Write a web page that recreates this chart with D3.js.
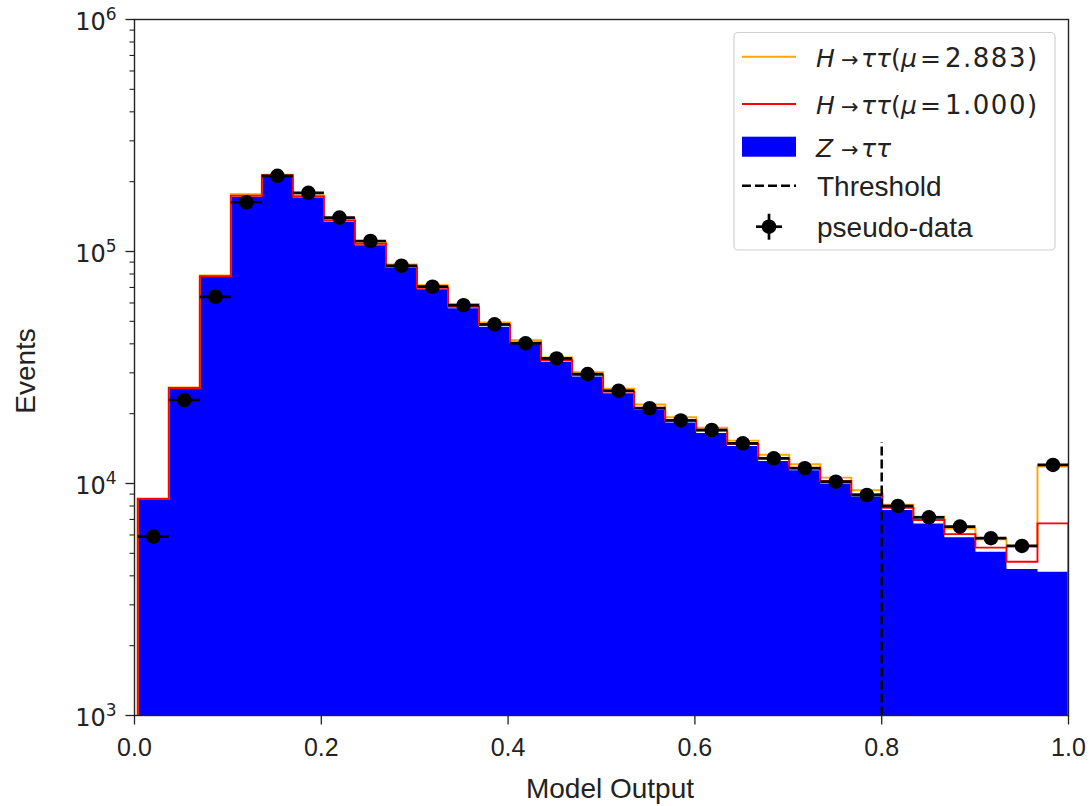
<!DOCTYPE html>
<html>
<head>
<meta charset="utf-8">
<script src="https://cdn.jsdelivr.net/npm/d3@7"></script>
<style>
  html, body { margin: 0; padding: 0; background: #fff; }
  svg { display: block; }
</style>
</head>
<body>
<svg id="chart" width="1091" height="806"></svg>
<script>
// ---------------- data ----------------
const nBins = 30;
const binRange = [0.0035, 1.0];        // histogram range (min..max model output)
const xDomain = [0, 1];
const yDomain = [1e3, 1e6];
const xTicks = [0, 0.2, 0.4, 0.6, 0.8, 1.0];
const xTickLabels = ["0.0", "0.2", "0.4", "0.6", "0.8", "1.0"];
const yMajorExp = [3, 4, 5, 6];

// Z -> tautau background (blue filled)
const zTauTau = [8550, 25700, 77800, 172000, 211000, 171000, 134500, 106500, 85000, 68700,
                 56900, 47400, 39900, 33500, 28900, 24500, 20800, 18300, 16500, 14500,
                 12500, 11400, 10000, 8800, 7690, 6730, 5860, 5080, 4280, 4170];
// stacked total, H -> tautau (mu = 1.000)
const hMu1Total = [8580, 25800, 78200, 174000, 212500, 172500, 136000, 108000, 86000, 69800,
                   57800, 48200, 40500, 34000, 29400, 24900, 21200, 18700, 16900, 14800,
                   12800, 11700, 10250, 9000, 7850, 6960, 6050, 5290, 4600, 6730];
// stacked total, H -> tautau (mu = 2.883)
const hMuFitTotal = [8620, 25950, 78800, 176400, 214500, 174500, 138500, 110000, 88000, 71600,
                     59300, 49400, 41500, 34900, 30200, 25600, 21900, 19300, 17400, 15300,
                     13300, 12100, 10600, 9350, 8100, 7200, 6400, 5750, 5350, 11840];
// pseudo-data
const pseudoData = [5900, 22900, 63800, 163000, 212000, 179000, 140000, 111000, 86800, 70500,
                    58700, 48500, 40200, 34600, 29600, 25100, 21100, 18700, 17000, 14900,
                    12840, 11630, 10180, 8920, 8000, 7150, 6520, 5810, 5380, 12020];
const thresholdX = 0.8;
const thresholdTop = 15100;

// ---------------- layout ----------------
const L = 134.5, R = 1068.5, T = 19.5, B = 715.5;
const svg = d3.select("#chart");
const x = d3.scaleLinear().domain(xDomain).range([L, R]);
const y = d3.scaleLog().domain(yDomain).range([B, T]);
const edges = d3.range(nBins + 1).map(i => binRange[0] + (binRange[1] - binRange[0]) * i / nBins);

svg.append("defs").append("clipPath").attr("id", "clip")
  .append("rect").attr("x", L).attr("y", T).attr("width", R - L).attr("height", B - T);

function stepPath(vals) {
  const p = d3.path();
  p.moveTo(x(edges[0]), B);
  vals.forEach((v, i) => {
    p.lineTo(x(edges[i]), y(v));
    p.lineTo(x(edges[i + 1]), y(v));
  });
  p.lineTo(x(edges[nBins]), B);
  return p.toString();
}

const plot = svg.append("g").attr("clip-path", "url(#clip)");

plot.append("path").attr("d", stepPath(zTauTau) + "Z")
  .attr("fill", "#0000ff").attr("stroke", "none");

plot.append("path").attr("d", stepPath(hMuFitTotal))
  .attr("fill", "none").attr("stroke", "#ffa500").attr("stroke-width", 1.9);
plot.append("path").attr("d", stepPath(hMu1Total))
  .attr("fill", "none").attr("stroke", "#ff0000").attr("stroke-width", 1.9);

plot.append("line")
  .attr("x1", x(thresholdX)).attr("x2", x(thresholdX))
  .attr("y1", y(yDomain[0])).attr("y2", y(thresholdTop))
  .attr("stroke", "#000").attr("stroke-width", 2.5).attr("stroke-dasharray", "9,4");

const dg = plot.append("g");
pseudoData.forEach((v, i) => {
  const cx = (x(edges[i]) + x(edges[i + 1])) / 2;
  dg.append("line").attr("x1", x(edges[i])).attr("x2", x(edges[i + 1]))
    .attr("y1", y(v)).attr("y2", y(v)).attr("stroke", "#000").attr("stroke-width", 2.7);
  dg.append("circle").attr("cx", cx).attr("cy", y(v)).attr("r", 7.3).attr("fill", "#000");
});

// ---------------- axes ----------------
const axisColor = "#222";
const mathFont = "DejaVu Sans, sans-serif";
const textFont = "Liberation Sans, Arial, Helvetica, sans-serif";
svg.append("rect").attr("x", L).attr("y", T).attr("width", R - L).attr("height", B - T)
  .attr("fill", "none").attr("stroke", axisColor).attr("stroke-width", 1.4);

const ax = svg.append("g");
xTicks.forEach((t, i) => {
  ax.append("line").attr("x1", x(t)).attr("x2", x(t)).attr("y1", B).attr("y2", B + 9)
    .attr("stroke", axisColor).attr("stroke-width", 1.3);
  ax.append("text").attr("x", x(t)).attr("y", B + 40).attr("text-anchor", "middle")
    .attr("font-family", textFont).attr("font-size", 25)
    .attr("fill", "#222").text(xTickLabels[i]);
});

yMajorExp.forEach(e => {
  const v = Math.pow(10, e);
  ax.append("line").attr("x1", L - 9).attr("x2", L).attr("y1", y(v)).attr("y2", y(v))
    .attr("stroke", axisColor).attr("stroke-width", 1.3);
  const tx = ax.append("text").attr("x", L - 18).attr("y", y(v) + 10).attr("text-anchor", "end")
    .attr("font-family", mathFont).attr("font-size", 24).attr("fill", "#222");
  tx.append("tspan").text("10");
  tx.append("tspan").attr("dy", -10).attr("font-size", 17).text(String(e));
  if (e < yMajorExp[yMajorExp.length - 1]) {
    for (let m = 2; m <= 9; m++) {
      const mv = m * v;
      ax.append("line").attr("x1", L - 5).attr("x2", L).attr("y1", y(mv)).attr("y2", y(mv))
        .attr("stroke", axisColor).attr("stroke-width", 1.1);
    }
  }
});

svg.append("text").attr("x", 610).attr("y", 798).attr("text-anchor", "middle")
  .attr("font-family", textFont).attr("font-size", 28)
  .attr("fill", "#222").text("Model Output");
svg.append("text").attr("transform", "translate(35,371) rotate(-90)")
  .attr("text-anchor", "middle")
  .attr("font-family", textFont).attr("font-size", 28)
  .attr("fill", "#222").text("Events");

// ---------------- legend ----------------
const lg = svg.append("g");
lg.append("rect").attr("x", 734).attr("y", 32.5).attr("width", 321).attr("height", 217.5)
  .attr("rx", 4).attr("fill", "#fff").attr("fill-opacity", 0.85)
  .attr("stroke", "#d0d0d0").attr("stroke-width", 1.2);

const hx0 = 742, hx1 = 796, tx0 = 817;
const rows = [56.7, 104, 146.7, 185.7, 226.7];
const mfs = 25;

function mathLabel(yc, mu) {
  const t = lg.append("text").attr("y", yc + 10)
    .attr("font-family", mathFont).attr("font-size", mfs).attr("fill", "#222");
  t.append("tspan").attr("x", 816).attr("font-style", "italic").text("H");
  t.append("tspan").attr("x", 841).attr("font-size", 21).text("\u2192");
  t.append("tspan").attr("x", 861).attr("font-style", "italic").text("\u03c4\u03c4");
  t.append("tspan").text("(");
  t.append("tspan").attr("x", 901).attr("font-style", "italic").text("\u03bc");
  t.append("tspan").attr("x", 920).text("=");
  t.append("tspan").attr("x", 945).attr("font-size", 26).attr("letter-spacing", 1.5).text(mu + ")");
}

lg.append("line").attr("x1", hx0).attr("x2", hx1).attr("y1", rows[0]).attr("y2", rows[0])
  .attr("stroke", "#ffa500").attr("stroke-width", 1.9);
mathLabel(rows[0], "2.883");
lg.append("line").attr("x1", hx0).attr("x2", hx1).attr("y1", rows[1]).attr("y2", rows[1])
  .attr("stroke", "#ff0000").attr("stroke-width", 1.9);
mathLabel(rows[1], "1.000");

lg.append("rect").attr("x", hx0).attr("y", rows[2] - 10).attr("width", hx1 - hx0).attr("height", 20)
  .attr("fill", "#0000ff");
const zt = lg.append("text").attr("y", rows[2] + 10)
  .attr("font-family", mathFont).attr("font-size", mfs).attr("fill", "#222");
zt.append("tspan").attr("x", 816).attr("font-style", "italic").text("Z");
zt.append("tspan").attr("x", 841).attr("font-size", 21).text("\u2192");
zt.append("tspan").attr("x", 861).attr("font-style", "italic").text("\u03c4\u03c4");

lg.append("line").attr("x1", hx0).attr("x2", hx1).attr("y1", rows[3]).attr("y2", rows[3])
  .attr("stroke", "#000").attr("stroke-width", 2.5).attr("stroke-dasharray", "9,4");
lg.append("text").attr("x", tx0).attr("y", rows[3] + 10).attr("font-family", textFont)
  .attr("font-size", 28).attr("fill", "#222").text("Threshold");

const mx = (hx0 + hx1) / 2;
lg.append("line").attr("x1", mx - 13).attr("x2", mx + 13).attr("y1", rows[4]).attr("y2", rows[4])
  .attr("stroke", "#000").attr("stroke-width", 2.7);
lg.append("line").attr("x1", mx).attr("x2", mx).attr("y1", rows[4] - 13).attr("y2", rows[4] + 13)
  .attr("stroke", "#000").attr("stroke-width", 2.7);
lg.append("circle").attr("cx", mx).attr("cy", rows[4]).attr("r", 7.3).attr("fill", "#000");
lg.append("text").attr("x", tx0).attr("y", rows[4] + 10).attr("font-family", textFont)
  .attr("font-size", 28).attr("fill", "#222").text("pseudo-data");
</script>
</body>
</html>
